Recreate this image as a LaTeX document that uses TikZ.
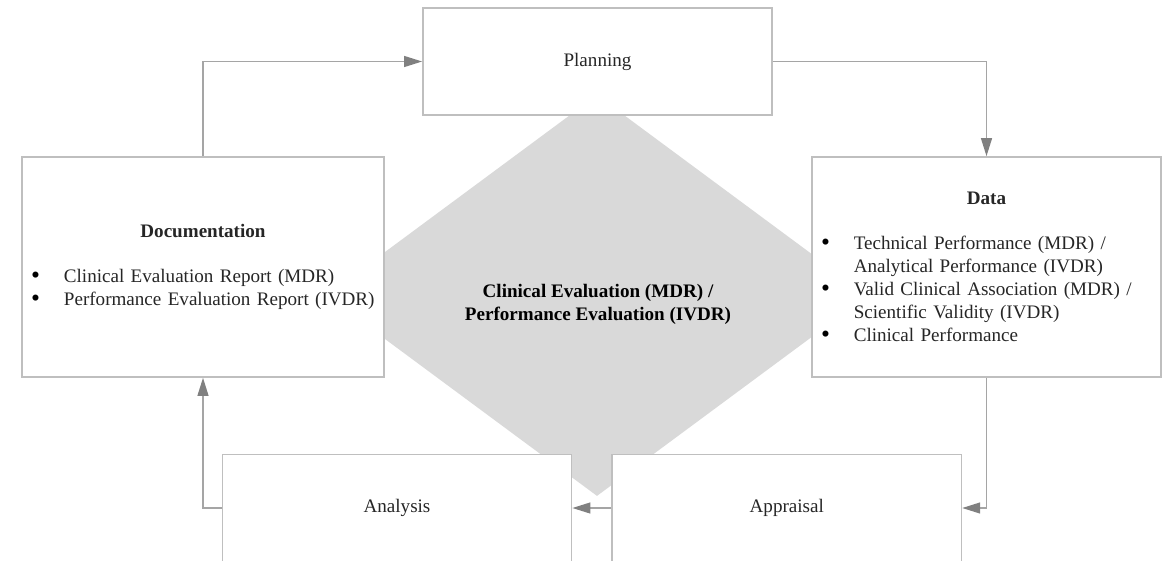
\documentclass[tikz,border=0pt]{standalone}
\usepackage{fontspec}
\setmainfont{Liberation Serif}
\usetikzlibrary{positioning,shapes.geometric,arrows.meta}
\setlength{\parindent}{0pt}
\definecolor{frame}{RGB}{191,191,191}
\definecolor{flowline}{RGB}{165,165,165}
\definecolor{flowtip}{RGB}{128,128,128}
\definecolor{hubfill}{RGB}{217,217,217}
\newcommand{\figfont}{\fontsize{10.5}{12.65}\selectfont}
\newcommand{\bitem}[1]{\makebox[18pt][l]{\raisebox{-0.6pt}{\color{black}\fontsize{14}{14}\selectfont\textbullet}}#1}
\newcommand{\bnext}[1]{\hspace*{18pt}#1}
\tikzstyle{arrow} = [draw=flowline, line width=0.8pt, -{Triangle[length=9.9pt,width=6pt,color=flowtip]}]

\begin{document}
\begin{tikzpicture}[
		x=0.55pt, y=-0.55pt,
		font=\figfont, text=black!85,
		stage/.style={
				rectangle,
				draw=frame,
				line width=0.9pt,
				fill=white,
				minimum width=192pt,
				minimum height=59pt,
				inner sep=0pt,
			},
		report/.style={
				rectangle,
				draw=frame,
				line width=0.9pt,
				fill=white,
				minimum height=121pt,
				inner xsep=5pt,
				align=left,
			},
		hub/.style={
				diamond,
				fill=hubfill,
				inner sep=0pt,
				minimum width=298pt,
				minimum height=220.6pt,
			}
	]
	\useasboundingbox (0,0) rectangle (1166,561);
	\clip (0,0) rectangle (1166,561);

	% Central diamond
	\node[hub] (hub) at (597,295.5) {};
	\node[font=\figfont\bfseries, text=black, align=center] (hublabel) at (598,304) {
		Clinical Evaluation (MDR) /\\
		Performance Evaluation (IVDR)
	};

	% Planning box
	\node[stage] (planning) at (597.5,61.5) {Planning};

	% Documentation box
	\node[report, text width=189pt] (doc) at (203,267) {
		\hfill\textbf{Documentation}\hfill\null\\[12pt]
		\bitem{Clinical Evaluation Report (MDR)}\\
		\bitem{Performance Evaluation Report (IVDR)}
	};

	% Data box
	\node[report, text width=182pt] (data) at (986.5,267) {
		\hfill\textbf{Data}\hfill\null\\[12pt]
		\bitem{Technical Performance (MDR) /}\\
		\bnext{Analytical Performance (IVDR)}\\
		\bitem{Valid Clinical Association (MDR) /}\\
		\bnext{Scientific Validity (IVDR)}\\
		\bitem{Clinical Performance}
	};

	% Analysis and Appraisal boxes
	\node[stage] (analysis) at (397,508) {Analysis};
	\node[stage, right=21.5pt of analysis] (appraisal) {Appraisal};

	% Connections
	\draw[arrow] (doc.north) |- (planning.west);
	\draw[arrow] (planning.east) -| (data.north);
	\draw[arrow] (data.south) |- (appraisal.east);
	\draw[arrow] (appraisal.west) -- (analysis.east);
	\draw[arrow] (analysis.west) -| (doc.south);
\end{tikzpicture}
\end{document}
